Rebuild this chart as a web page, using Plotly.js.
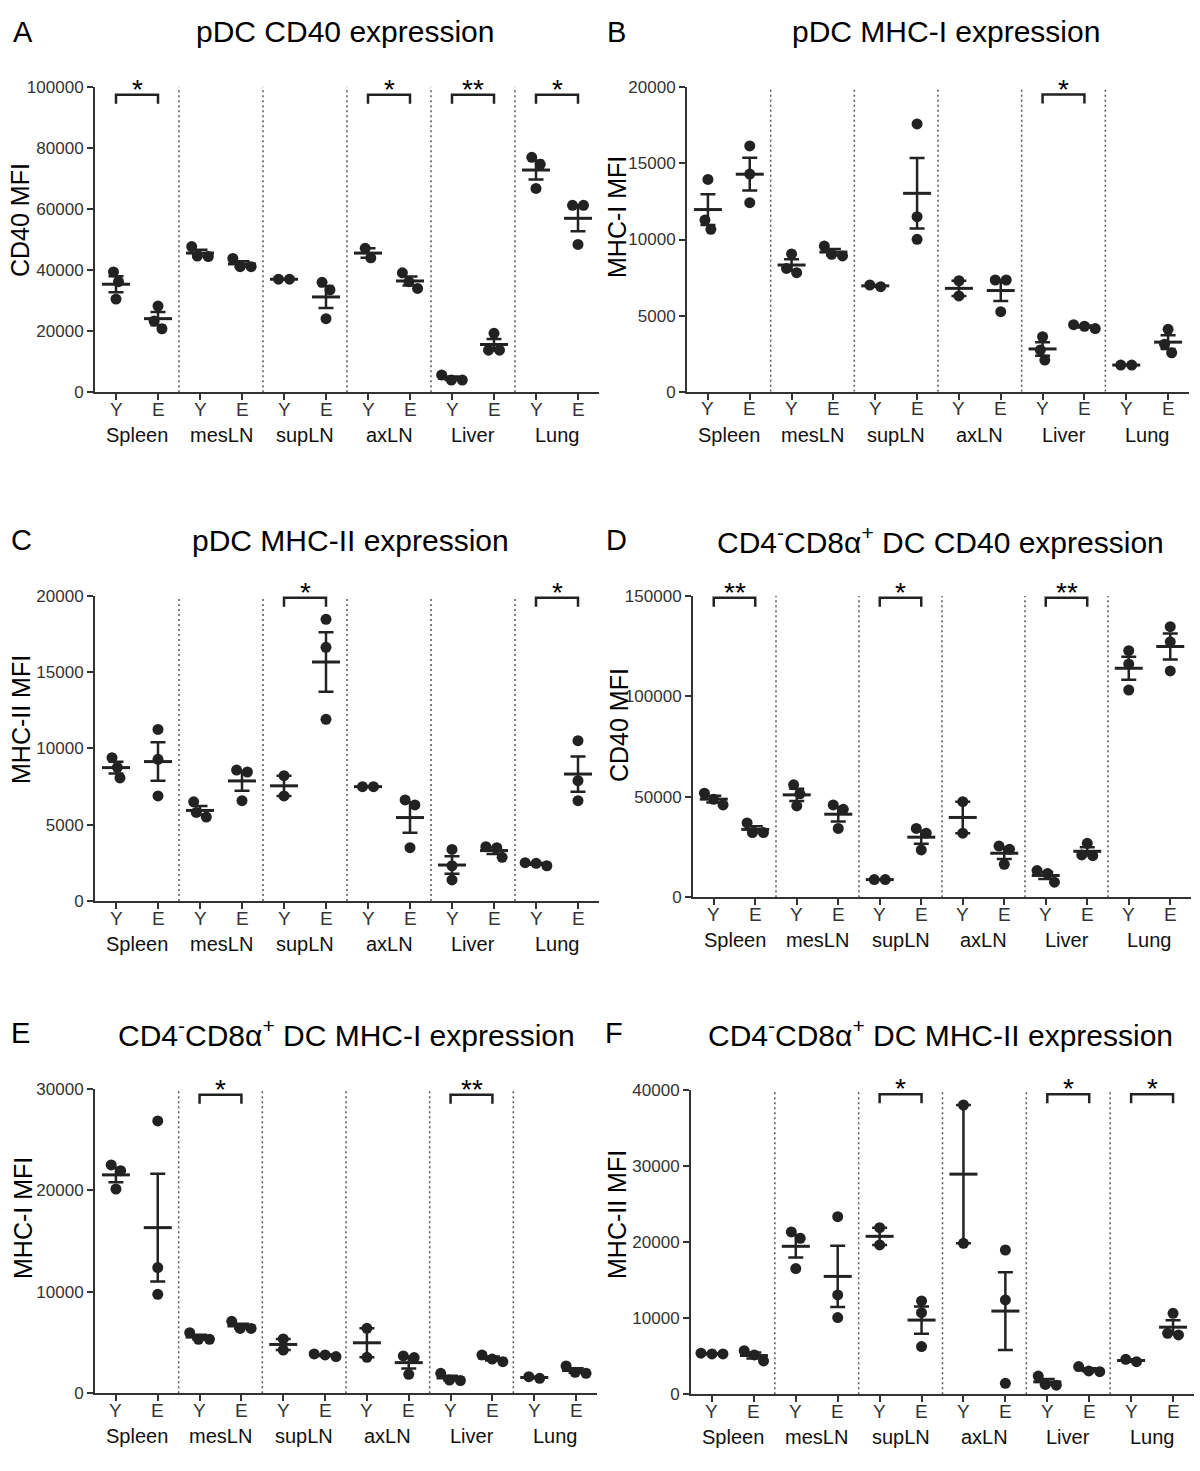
<!DOCTYPE html>
<html><head><meta charset="utf-8">
<script src="https://cdn.plot.ly/plotly-3.0.1.min.js"></script>
<style>body{margin:0;background:#fff}#chart{width:1200px;height:1471px}</style>
</head><body><div id="chart"></div>
<script>
// ---------- data ----------
const tissues = ['Spleen', 'mesLN', 'supLN', 'axLN', 'Liver', 'Lung'];
const groups = ['Y', 'E'];

// A: pDC CD40 expression (order: Spleen Y, Spleen E, mesLN Y, ...)
const pdcCD40 = [
  [39400, 36200, 30500], [28200, 23300, 20800],
  [47700, 44600, 44400], [43800, 41100, 41100],
  [37000, 37000], [36000, 33500, 24100],
  [47100, 44000], [39100, 36200, 34000],
  [5700, 4000, 4000], [19300, 13800, 13800],
  [76900, 74600, 66700], [61200, 61200, 48400]
];
const pdcCD40Sig = [[0, '*'], [3, '*'], [4, '**'], [5, '*']];

// B: pDC MHC-I expression
const pdcMHCI = [
  [13950, 11280, 10670], [16150, 14300, 12420],
  [9050, 8100, 7820], [9570, 9030, 8920],
  [7010, 6900], [17590, 11500, 10010],
  [7290, 6290], [7340, 7340, 5260],
  [3610, 2740, 2080], [4400, 4300, 4150],
  [1750, 1750], [4100, 3110, 2560]
];
const pdcMHCISig = [[4, '*']];

// C: pDC MHC-II expression
const pdcMHCII = [
  [9390, 8760, 8060], [11240, 9280, 6880],
  [6500, 5800, 5500], [8580, 8450, 6570],
  [8210, 6880], [18450, 16620, 11900],
  [7490, 7490], [6620, 6290, 3490],
  [3380, 2310, 1380], [3560, 3490, 2860],
  [2510, 2470, 2310], [10500, 7880, 6570]
];
const pdcMHCIISig = [[2, '*'], [5, '*']];

// D: CD4-CD8a+ DC CD40 expression
const cd8CD40 = [
  [51800, 48800, 46000], [37000, 32200, 32200],
  [56000, 51500, 45500], [46000, 43800, 34300],
  [8800, 8800], [34300, 31900, 23600],
  [47600, 31900], [25500, 23900, 16400],
  [13300, 11800, 7500], [26900, 21100, 20700],
  [122800, 116100, 103200], [134700, 127200, 112700]
];
const cd8CD40Sig = [[0, '**'], [2, '*'], [4, '**']];

// E: CD4-CD8a+ DC MHC-I expression
const cd8MHCI = [
  [22510, 21950, 20140], [26850, 12390, 9760],
  [5980, 5320, 5320], [7100, 6400, 6400],
  [5360, 4270], [3880, 3780, 3620],
  [6410, 3550], [3680, 3520, 1870],
  [1970, 1310, 1250], [3780, 3380, 3120],
  [1640, 1480], [2690, 2070, 1970]
];
const cd8MHCISig = [[1, '*'], [4, '**']];

// F: CD4-CD8a+ DC MHC-II expression
const cd8MHCII = [
  [5400, 5300, 5300], [5740, 5170, 4380],
  [21340, 20500, 16520], [23350, 13060, 10080],
  [21900, 19630], [12270, 10730, 6270],
  [38030, 19850], [18970, 12400, 1450],
  [2400, 1300, 1200], [3640, 3070, 2980],
  [4600, 4290], [10650, 8020, 7800]
];
const cd8MHCIISig = [[2, '*'], [4, '*'], [5, '*']];

const panelTags = ['A', 'B', 'C', 'D', 'E', 'F'];
const panelTitles = [
  'pDC CD40 expression', 'pDC MHC-I expression', 'pDC MHC-II expression',
  'CD4<sup>-</sup>CD8α<sup>+</sup> DC CD40 expression',
  'CD4<sup>-</sup>CD8α<sup>+</sup> DC MHC-I expression',
  'CD4<sup>-</sup>CD8α<sup>+</sup> DC MHC-II expression'
];
const yTitles = ['CD40 MFI', 'MHC-I MFI', 'MHC-II MFI', 'CD40 MFI', 'MHC-I MFI', 'MHC-II MFI'];
const yMax = [100000, 20000, 20000, 150000, 30000, 40000];
const yStep = [20000, 5000, 5000, 50000, 10000, 10000];
const panelData = [pdcCD40, pdcMHCI, pdcMHCII, cd8CD40, cd8MHCI, cd8MHCII];
const panelSig = [pdcCD40Sig, pdcMHCISig, pdcMHCIISig, cd8CD40Sig, cd8MHCISig, cd8MHCIISig];

// ---------- layout geometry (pixels) ----------
const W = 1200, H = 1471;
const geo = [
  {l: 95, r: 599, t: 86.7, b: 392.3, tx: 345, ty: 32, gx: 23, yx: 20, yy: 220, sl: 0.974},
  {l: 687, r: 1189, t: 87.3, b: 391.7, tx: 946, ty: 32, gx: 616, yx: 617, yy: 217, sl: 0.976},
  {l: 95, r: 599, t: 595.7, b: 901, tx: 350, ty: 540, gx: 21, yx: 21, yy: 720, sl: 0.993},
  {l: 693, r: 1191, t: 596, b: 897.3, tx: 940, ty: 540, gx: 616, yx: 619, yy: 725, sl: 0.994},
  {l: 95, r: 597, t: 1089, b: 1393.3, tx: 346, ty: 1033, gx: 20, yx: 23, yy: 1218, sl: 0.981},
  {l: 691, r: 1194, t: 1090, b: 1394.3, tx: 940, ty: 1033, gx: 614, yx: 617, yy: 1215, sl: 0.986}
];
const px = v => v / W;
const py = v => 1 - v / H;

const INK = '#222';
const FONT = 'Liberation Sans, Arial, Helvetica, sans-serif';

function swarm(vals, pxPerVal, pxPerUnit, center) {
  const D = 11;
  const idx = vals.map((v, i) => i).sort((a, b) => vals[b] - vals[a]);
  const xs = new Array(vals.length).fill(center);
  const clusters = [];
  let cl = [idx[0]];
  for (let k = 1; k < idx.length; k++) {
    const dy = (vals[idx[k - 1]] - vals[idx[k]]) * pxPerVal;
    if (dy < D) cl.push(idx[k]); else { clusters.push(cl); cl = [idx[k]]; }
  }
  clusters.push(cl);
  clusters.forEach(c => {
    const pos = [0];
    for (let k = 1; k < c.length; k++) {
      const dy = (vals[c[k - 1]] - vals[c[k]]) * pxPerVal;
      pos.push(pos[k - 1] + Math.sqrt(Math.max(0, D * D - dy * dy)));
    }
    const mid = (pos[0] + pos[pos.length - 1]) / 2;
    c.forEach((i, k) => { xs[i] = center + (pos[k] - mid) / pxPerUnit; });
  });
  return xs;
}

const traces = [];
const shapes = [];
const annotations = [];
const layout = {
  width: W, height: H, margin: {l: 0, r: 0, t: 0, b: 0},
  paper_bgcolor: '#fff', plot_bgcolor: '#fff', showlegend: false,
  font: {family: FONT, color: INK}
};

const tickvals = [], ticktext = [];
tissues.forEach((t, ti) => groups.forEach((g, gi) => { tickvals.push(ti * 2 + gi); ticktext.push(g); }));

panelData.forEach((data, p) => {
  const g = geo[p];
  const n = p === 0 ? '' : String(p + 1);
  const xa = 'x' + n, ya = 'y' + n;
  const pxPerUnit = (g.r - g.l) / 12;
  const pxPerVal = (g.b - g.t) / yMax[p];

  layout['xaxis' + n] = {
    domain: [px(g.l), px(g.r)], anchor: ya, range: [-0.5, 11.5],
    tickmode: 'array', tickvals: tickvals, showticklabels: false,
    showline: true, linecolor: '#333', linewidth: 2,
    ticks: 'outside', ticklen: 6, tickwidth: 2, tickcolor: '#333',
    showgrid: false, zeroline: false, fixedrange: true
  };
  const yt = [];
  for (let v = 0; v <= yMax[p]; v += yStep[p]) yt.push(v);
  layout['yaxis' + n] = {
    domain: [py(g.b), py(g.t)], anchor: xa, range: [0, yMax[p]],
    tickmode: 'array', tickvals: yt, ticktext: yt.map(String),
    showline: true, linecolor: '#333', linewidth: 2,
    ticks: 'outside', ticklen: 6, tickwidth: 2, tickcolor: '#333',
    tickfont: {size: 17, color: '#333', family: FONT},
    showgrid: false, zeroline: false, fixedrange: true
  };

  // points
  const xs = [], ys = [];
  const mx = [], my = [], se = [];
  data.forEach((vals, c) => {
    const sx = swarm(vals, pxPerVal, pxPerUnit, c);
    vals.forEach((v, i) => { xs.push(sx[i]); ys.push(v); });
    const m = vals.reduce((a, b) => a + b, 0) / vals.length;
    const sd = Math.sqrt(vals.reduce((a, b) => a + (b - m) * (b - m), 0) / (vals.length - 1));
    mx.push(c); my.push(m); se.push(sd / Math.sqrt(vals.length));
  });
  traces.push({
    type: 'scatter', mode: 'markers', x: xs, y: ys, xaxis: xa, yaxis: ya,
    marker: {size: 11, color: INK, line: {width: 0}}, cliponaxis: false, hoverinfo: 'y'
  });
  traces.push({
    type: 'scatter', mode: 'markers', x: mx, y: my, xaxis: xa, yaxis: ya,
    marker: {symbol: 'line-ew', size: 20, color: INK, line: {width: 3, color: INK}},
    error_y: {type: 'data', array: se, visible: true, width: 7.5, thickness: 2.5, color: INK},
    cliponaxis: false, hoverinfo: 'y'
  });

  // separators
  for (let s = 1; s < tissues.length; s++) {
    shapes.push({type: 'line', xref: xa, yref: ya, x0: 2 * s - 0.5, x1: 2 * s - 0.5, y0: 0, y1: yMax[p],
      line: {color: '#555', width: 1.5, dash: '2px,3px'}});
  }

  // significance brackets
  panelSig[p].forEach(([ti, lab]) => {
    const top = g.sl * yMax[p];
    const leg = top - 9 / pxPerVal;
    traces.push({
      type: 'scatter', mode: 'lines', xaxis: xa, yaxis: ya,
      x: [2 * ti, 2 * ti, 2 * ti + 1, 2 * ti + 1], y: [leg, top, top, leg],
      line: {color: INK, width: 2.5}, cliponaxis: false, hoverinfo: 'skip'
    });
    annotations.push({xref: xa, yref: ya, x: 2 * ti + 0.5, y: top, text: lab, showarrow: false,
      xanchor: 'center', yanchor: 'bottom', yshift: -12, font: {size: 28, color: '#000', family: FONT}});
  });

  // category (Y/E) labels
  tickvals.forEach((v, k) => {
    annotations.push({xref: xa, yref: 'paper', x: v, y: py(g.b + 17), text: ticktext[k], showarrow: false,
      xanchor: 'center', yanchor: 'middle', font: {size: 19, color: '#333', family: FONT}});
  });
  // tissue labels
  tissues.forEach((t, ti) => {
    annotations.push({xref: xa, yref: 'paper', x: 2 * ti + 0.5, y: py(g.b + 43), text: t, showarrow: false,
      xanchor: 'center', yanchor: 'middle', font: {size: 20, color: '#111', family: FONT}});
  });

  // y title
  annotations.push({xref: 'paper', yref: 'paper', x: px(g.yx), y: py(g.yy), text: yTitles[p], textangle: -90,
    showarrow: false, xanchor: 'center', yanchor: 'middle', font: {size: 25, color: '#000', family: FONT}});
  // panel title and tag
  annotations.push({xref: 'paper', yref: 'paper', x: px(g.tx), y: py(g.ty), text: panelTitles[p],
    showarrow: false, xanchor: 'center', yanchor: 'middle', font: {size: 30, color: '#000', family: FONT}});
  annotations.push({xref: 'paper', yref: 'paper', x: px(g.gx), y: py(g.ty), text: panelTags[p],
    showarrow: false, xanchor: 'center', yanchor: 'middle', font: {size: 29, color: '#000', family: FONT}});
});

layout.shapes = shapes;
layout.annotations = annotations;
Plotly.newPlot('chart', traces, layout, {staticPlot: true, displayModeBar: false});
</script></body></html>
